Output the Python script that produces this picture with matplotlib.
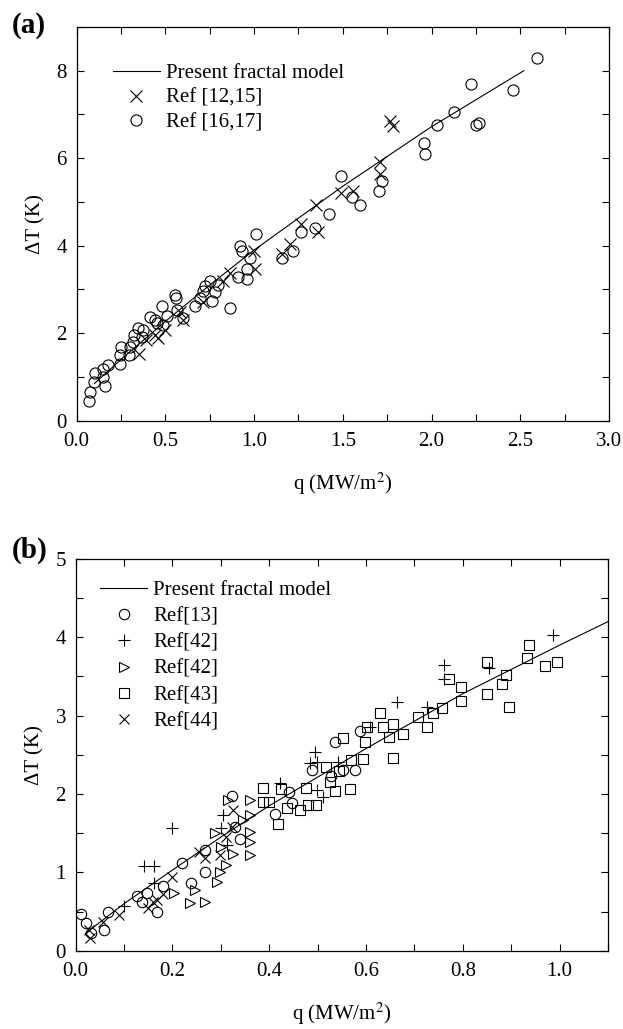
import matplotlib
matplotlib.use("Agg")
import matplotlib.pyplot as plt
from matplotlib.ticker import MultipleLocator

# ---- panel (a) data ----
model_a_q = [0.10, 0.25, 0.5, 0.75, 1.0, 1.5, 2.0, 2.52]
model_a_dt = [0.85, 1.40, 2.27, 3.10, 3.90, 5.36, 6.72, 8.00]

ref1215_q = [0.35, 0.393, 0.44, 0.46, 0.50, 0.60, 0.58, 0.714, 0.826, 0.864,
             1.005, 1.0, 1.155, 1.2, 1.267, 1.36, 1.35, 1.487, 1.558, 1.708,
             1.708, 1.764, 1.78]
ref1215_dt = [1.53, 1.84, 1.96, 1.88, 2.07, 2.30, 2.49, 2.72, 3.20, 3.38,
              3.46, 3.88, 3.80, 4.03, 4.50, 4.31, 4.92, 5.21, 5.26, 5.92,
              5.64, 6.84, 6.74]

ref1617_q = [0.072, 0.076, 0.095, 0.104, 0.151, 0.157, 0.179, 0.151, 0.245, 0.25,
             0.245, 0.292, 0.301, 0.324, 0.32, 0.348, 0.372, 0.367, 0.414, 0.442,
             0.451, 0.479, 0.488, 0.511, 0.554, 0.56, 0.564, 0.601, 0.667, 0.695,
             0.714, 0.723, 0.751, 0.761, 0.779, 0.798, 0.864, 0.92, 0.93, 0.911,
             0.958, 0.958, 0.976, 1.01, 1.155, 1.22, 1.267, 1.342, 1.423, 1.492,
             1.554, 1.595, 1.704, 1.723, 1.957, 1.965, 2.03, 2.124, 2.22, 2.251,
             2.27, 2.461, 2.594]
ref1617_dt = [0.45, 0.66, 0.89, 1.09, 0.99, 0.80, 1.28, 1.18, 1.30, 1.69,
              1.49, 1.50, 1.69, 1.96, 1.80, 2.11, 2.07, 1.92, 2.38, 2.30,
              2.23, 2.61, 2.19, 2.40, 2.88, 2.80, 2.54, 2.34, 2.61, 2.80,
              2.96, 3.07, 3.19, 2.74, 2.93, 3.11, 2.58, 4.00, 3.88, 3.28,
              3.46, 3.24, 3.72, 4.27, 3.72, 3.88, 4.32, 4.40, 4.73, 5.59,
              5.12, 4.94, 5.26, 5.48, 6.34, 6.09, 6.77, 7.06, 7.69, 6.77,
              6.80, 7.55, 8.28]

# ---- panel (b) data ----
model_b_q = [0.02, 0.1, 0.2, 0.3, 0.4, 0.6, 0.8, 1.0, 1.1]
model_b_dt = [0.22, 0.60, 1.03, 1.45, 1.85, 2.58, 3.28, 3.90, 4.20]

ref13_q = [0.010, 0.021, 0.031, 0.059, 0.067, 0.126, 0.136, 0.148, 0.167, 0.181,
           0.219, 0.238, 0.267, 0.268, 0.324, 0.329, 0.34, 0.412, 0.44, 0.446,
           0.488, 0.527, 0.536, 0.553, 0.577, 0.587]
ref13_dt = [0.47, 0.35, 0.22, 0.27, 0.50, 0.70, 0.62, 0.73, 0.49, 0.82,
            1.12, 0.86, 1.00, 1.29, 1.97, 1.58, 1.43, 1.75, 2.03, 1.88,
            2.30, 2.23, 2.67, 2.31, 2.30, 2.81]

ref42a_q = [0.10, 0.142, 0.162, 0.162, 0.20, 0.304, 0.312, 0.30, 0.422, 0.484,
            0.494, 0.499, 0.498, 0.512, 0.542, 0.608, 0.665, 0.725, 0.762, 0.762,
            0.855, 0.986]
ref42a_dt = [0.57, 1.08, 1.08, 0.87, 1.56, 1.73, 1.35, 1.56, 2.14, 2.39,
             2.54, 2.41, 2.05, 1.96, 2.41, 2.86, 3.17, 3.11, 3.65, 3.47,
             3.61, 4.03]

ref42b_q = [0.204, 0.236, 0.247, 0.267, 0.293, 0.298, 0.31, 0.288, 0.315, 0.30,
            0.326, 0.345, 0.36, 0.36, 0.36, 0.36, 0.36]
ref42b_dt = [0.74, 0.61, 0.77, 0.62, 0.88, 1.00, 1.10, 1.50, 1.92, 1.32,
             1.24, 1.67, 1.92, 1.73, 1.52, 1.39, 1.22]

ref43_q = [0.388, 0.388, 0.40, 0.419, 0.425, 0.437, 0.463, 0.476, 0.48, 0.497,
           0.517, 0.525, 0.536, 0.545, 0.553, 0.566, 0.568, 0.593, 0.598, 0.601,
           0.629, 0.635, 0.648, 0.656, 0.656, 0.676, 0.708, 0.725, 0.739, 0.757,
           0.771, 0.796, 0.797, 0.849, 0.849, 0.880, 0.889, 0.895, 0.932, 0.937,
           0.970, 0.994]
ref43_dt = [2.08, 1.90, 1.90, 1.62, 2.07, 1.82, 1.80, 2.08, 1.86, 1.86,
            2.35, 2.15, 2.04, 2.29, 2.72, 2.06, 2.43, 2.45, 2.67, 2.85,
            3.03, 2.85, 2.73, 2.89, 2.46, 2.77, 2.98, 2.85, 3.04, 3.10,
            3.47, 3.37, 3.19, 3.69, 3.28, 3.40, 3.52, 3.11, 3.73, 3.90,
            3.64, 3.69]

ref44_q = [0.03, 0.028, 0.056, 0.09, 0.149, 0.16, 0.169, 0.18, 0.20, 0.255,
           0.267, 0.298, 0.31, 0.324, 0.326]
ref44_dt = [0.16, 0.26, 0.37, 0.46, 0.54, 0.62, 0.65, 0.72, 0.94, 1.26,
            1.18, 1.22, 1.45, 1.58, 1.79]

plt.rcParams["font.family"] = ["Liberation Serif", "DejaVu Serif"]
plt.rcParams["mathtext.fontset"] = "stix"

fig = plt.figure(figsize=(6.23, 10.29), dpi=100)
ax_a = fig.add_axes([0.1231, 0.5912, 0.8544, 0.3826])
ax_b = fig.add_axes([0.1215, 0.0761, 0.8544, 0.3807])

mk = dict(linestyle="none", markerfacecolor="none", markeredgecolor="black",
          markeredgewidth=0.8)
fs = 15
leg_kw = dict(loc="upper left", frameon=False, fontsize=fs, handlelength=2.25,
              handletextpad=0.3, borderaxespad=0.0, borderpad=0.0)

# (a)
ax_a.plot(model_a_q, model_a_dt, color="black", lw=0.8, label="Present fractal model")
ax_a.plot(ref1215_q, ref1215_dt, marker="x", markersize=8, color="black", **mk, label="Ref [12,15]")
ax_a.plot(ref1617_q, ref1617_dt, marker="o", markersize=8, **mk, label="Ref [16,17]")
ax_a.set_xlim(0, 3.0)
ax_a.set_ylim(0, 9)
ax_a.xaxis.set_major_locator(MultipleLocator(0.5))
ax_a.xaxis.set_minor_locator(MultipleLocator(0.25))
ax_a.yaxis.set_major_locator(MultipleLocator(2))
ax_a.yaxis.set_minor_locator(MultipleLocator(1))
ax_a.xaxis.set_major_formatter(lambda v, p: f"{v:.1f}")
ax_a.set_xlabel("q (MW/m$^2$)", fontsize=fs, labelpad=14)
ax_a.set_ylabel("\u0394T (K)", fontsize=fs, labelpad=8)
ax_a.legend(bbox_to_anchor=(0.068, 0.907), labelspacing=0.25, **leg_kw)

# (b)
ax_b.plot(model_b_q, model_b_dt, color="black", lw=0.8, label="Present fractal model")
ax_b.plot(ref13_q, ref13_dt, marker="o", markersize=7.5, **mk, label="Ref[13]")
ax_b.plot(ref42a_q, ref42a_dt, marker="+", markersize=8, color="black", **mk, label="Ref[42]")
ax_b.plot(ref42b_q, ref42b_dt, marker=">", markersize=7, **mk, label="Ref[42]")
ax_b.plot(ref43_q, ref43_dt, marker="s", markersize=6.5, **mk, label="Ref[43]")
ax_b.plot(ref44_q, ref44_dt, marker="x", markersize=7.5, color="black", **mk, label="Ref[44]")
ax_b.set_xlim(0, 1.1)
ax_b.set_ylim(0, 5)
ax_b.xaxis.set_major_locator(MultipleLocator(0.2))
ax_b.xaxis.set_minor_locator(MultipleLocator(0.1))
ax_b.yaxis.set_major_locator(MultipleLocator(1))
ax_b.yaxis.set_minor_locator(MultipleLocator(0.5))
ax_b.xaxis.set_major_formatter(lambda v, p: f"{v:.1f}")
ax_b.set_xlabel("q (MW/m$^2$)", fontsize=fs, labelpad=14)
ax_b.set_ylabel("\u0394T (K)", fontsize=fs, labelpad=8)
ax_b.legend(bbox_to_anchor=(0.046, 0.945), labelspacing=0.32, **leg_kw)

for ax in (ax_a, ax_b):
    ax.tick_params(which="both", direction="in", top=True, right=True,
                   length=5, width=0.8, labelsize=fs)
    ax.tick_params(axis="x", pad=8)
    ax.tick_params(axis="y", pad=7)
    for s in ax.spines.values():
        s.set_linewidth(0.9)

fig.text(0.019, 0.988, "(a)", fontsize=21, fontweight="bold", va="top")
fig.text(0.019, 0.478, "(b)", fontsize=21, fontweight="bold", va="top")

fig.savefig("out.png", dpi=100)
